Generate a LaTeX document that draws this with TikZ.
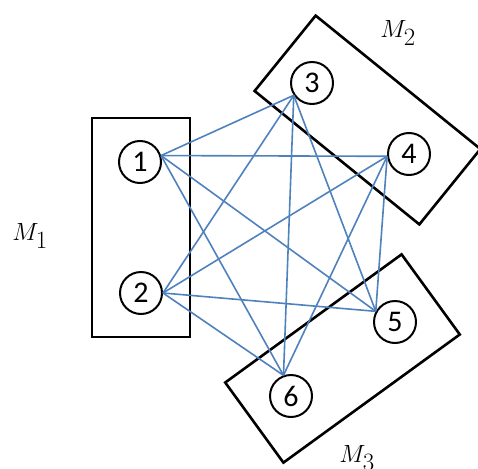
\documentclass[tikz,border=0pt]{standalone}
\usepackage{fontspec}
\setmainfont{Carlito}
\definecolor{edgeBlue}{RGB}{79, 129, 189}
\usepackage{tikz}
\usetikzlibrary{positioning}

\begin{document}
\begin{tikzpicture}[x=1pt, y=-1pt, every node/.style={font=\fontsize{33}{35}\selectfont},
    machine/.style={draw, line width=2.6pt, inner sep=0pt},
    proc/.style={draw, circle, line width=2pt, minimum size=42pt, inner sep=0pt, font=\fontsize{30}{32}\selectfont},
    link/.style={edgeBlue, line width=1.6pt}]
        \useasboundingbox (0,0) rectangle (478,468);

        % machines
        \node[machine, minimum width=98pt, minimum height=219pt] (m1) at (141,227.5) {};
        \node[machine, minimum width=212pt, minimum height=97pt, rotate=-39] (m2) at (367.5,120) {};
        \node[machine, minimum width=218pt, minimum height=99pt, rotate=36] (m3) at (342.5,358.5) {};

        \node (l1) at (30,236) {$M_1$};
        \node (l2) at (398,33) {$M_2$};
        \node (l3) at (357,458) {$M_3$};

        % processes
        \node[proc] (n1) at (140,162) {1};
        \node[proc] (n2) at (141,293) {2};
        \node[proc] (n3) at (312,83) {3};
        \node[proc] (n4) at (409,154) {4};
        \node[proc] (n5) at (395,322) {5};
        \node[proc] (n6) at (291,396) {6};

        \coordinate (p1) at (n1.17);
        \coordinate (p2) at (n2.0);
        \coordinate (p3) at (n3.214);
        \coordinate (p4) at (n4.186);
        \coordinate (p5) at (n5.151);
        \coordinate (p6) at (n6.110);

        \foreach \a/\b in {1/3, 1/4, 1/5, 1/6, 2/3, 2/4, 2/5, 2/6, 3/5, 3/6, 4/5, 4/6}
          \draw[link] (p\a) -- (p\b);
      \end{tikzpicture}
\end{document}
